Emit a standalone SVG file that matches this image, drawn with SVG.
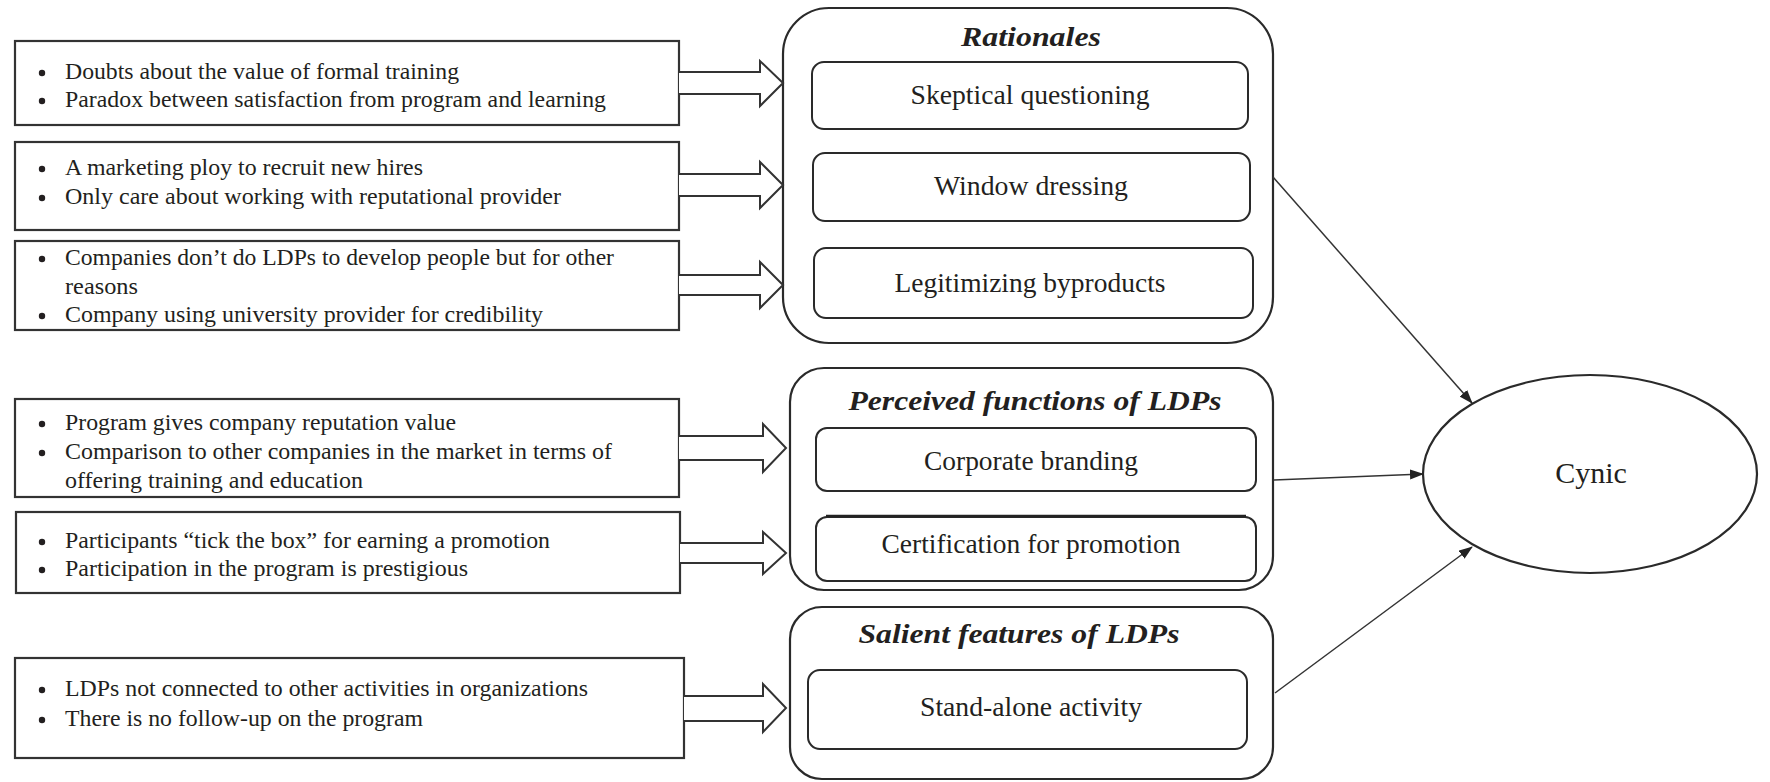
<svg xmlns="http://www.w3.org/2000/svg" width="1770" height="782" viewBox="0 0 1770 782">
<style>
.box{fill:#fff;stroke:#333;stroke-width:2.2}
.blk{fill:#fff;stroke:#333;stroke-width:2;stroke-linejoin:miter}
.cont{fill:#fff;stroke:#2a2a2a;stroke-width:2.2}
.inner{fill:#fff;stroke:#2a2a2a;stroke-width:2}
.lt{font-family:"Liberation Serif",serif;font-size:23px;fill:#231f20}
.it{font-family:"Liberation Serif",serif;font-size:27px;fill:#231f20;text-anchor:middle}
.tt{font-family:"Liberation Serif",serif;font-size:28px;font-weight:bold;font-style:italic;fill:#231f20;text-anchor:middle}
.bul{fill:#231f20}
.con{stroke:#333;stroke-width:1.5;fill:none;marker-end:url(#ah)}
</style>
<defs>
<marker id="ah" markerWidth="14" markerHeight="10" refX="13" refY="5" orient="auto" markerUnits="userSpaceOnUse">
<path d="M0,0 L14,5 L0,10 Z" fill="#222"/>
</marker>
</defs>
<rect width="1770" height="782" fill="#fff"/>

<g id="src1">
<rect class="box" x="15" y="41" width="664" height="84"/>
<circle class="bul" cx="42" cy="73" r="3.2"/><circle class="bul" cx="42" cy="101" r="3.2"/>
<text class="lt" x="65" y="79" textLength="394" lengthAdjust="spacingAndGlyphs">Doubts about the value of formal training</text>
<text class="lt" x="65" y="107" textLength="541" lengthAdjust="spacingAndGlyphs">Paradox between satisfaction from program and learning</text>
</g>
<g id="src2">
<rect class="box" x="15" y="142" width="664" height="88"/>
<circle class="bul" cx="42" cy="169" r="3.2"/><circle class="bul" cx="42" cy="198" r="3.2"/>
<text class="lt" x="65" y="175" textLength="358" lengthAdjust="spacingAndGlyphs">A marketing ploy to recruit new hires</text>
<text class="lt" x="65" y="204" textLength="496" lengthAdjust="spacingAndGlyphs">Only care about working with reputational provider</text>
</g>
<g id="src3">
<rect class="box" x="15" y="241" width="664" height="89"/>
<circle class="bul" cx="42" cy="259" r="3.2"/><circle class="bul" cx="42" cy="316" r="3.2"/>
<text class="lt" x="65" y="265" textLength="549" lengthAdjust="spacingAndGlyphs">Companies don’t do LDPs to develop people but for other</text>
<text class="lt" x="65" y="294" textLength="73" lengthAdjust="spacingAndGlyphs">reasons</text>
<text class="lt" x="65" y="322" textLength="478" lengthAdjust="spacingAndGlyphs">Company using university provider for credibility</text>
</g>
<g id="src4">
<rect class="box" x="15" y="399" width="664" height="98"/>
<circle class="bul" cx="42" cy="424" r="3.2"/><circle class="bul" cx="42" cy="453" r="3.2"/>
<text class="lt" x="65" y="430" textLength="391" lengthAdjust="spacingAndGlyphs">Program gives company reputation value</text>
<text class="lt" x="65" y="459" textLength="547" lengthAdjust="spacingAndGlyphs">Comparison to other companies in the market in terms of</text>
<text class="lt" x="65" y="488" textLength="298" lengthAdjust="spacingAndGlyphs">offering training and education</text>
</g>
<g id="src5">
<rect class="box" x="16" y="512" width="664" height="81"/>
<circle class="bul" cx="42" cy="542" r="3.2"/><circle class="bul" cx="42" cy="570" r="3.2"/>
<text class="lt" x="65" y="548" textLength="485" lengthAdjust="spacingAndGlyphs">Participants “tick the box” for earning a promotion</text>
<text class="lt" x="65" y="576" textLength="403" lengthAdjust="spacingAndGlyphs">Participation in the program is prestigious</text>
</g>
<g id="src6">
<rect class="box" x="15" y="658" width="669" height="100"/>
<circle class="bul" cx="42" cy="690" r="3.2"/><circle class="bul" cx="42" cy="720" r="3.2"/>
<text class="lt" x="65" y="696" textLength="523" lengthAdjust="spacingAndGlyphs">LDPs not connected to other activities in organizations</text>
<text class="lt" x="65" y="726" textLength="358" lengthAdjust="spacingAndGlyphs">There is no follow-up on the program</text>
</g>

<g id="rationales">
<rect class="cont" x="783" y="8" width="490" height="335" rx="46" ry="46"/>
<text class="tt" x="1031" y="46" textLength="140" lengthAdjust="spacingAndGlyphs">Rationales</text>
<rect class="inner" x="812" y="62" width="436" height="67" rx="12" ry="12"/>
<text class="it" x="1030" y="104" textLength="239" lengthAdjust="spacingAndGlyphs">Skeptical questioning</text>
<rect class="inner" x="813" y="153" width="437" height="68" rx="12" ry="12"/>
<text class="it" x="1031" y="195" textLength="194" lengthAdjust="spacingAndGlyphs">Window dressing</text>
<rect class="inner" x="814" y="248" width="439" height="70" rx="12" ry="12"/>
<text class="it" x="1030" y="292" textLength="271" lengthAdjust="spacingAndGlyphs">Legitimizing byproducts</text>
</g>

<g id="perceived">
<rect class="cont" x="790" y="368" width="483" height="222" rx="34" ry="34"/>
<text class="tt" x="1035" y="410" textLength="373" lengthAdjust="spacingAndGlyphs">Perceived functions of LDPs</text>
<rect class="inner" x="816" y="428" width="440" height="63" rx="11" ry="11"/>
<text class="it" x="1031" y="470" textLength="214" lengthAdjust="spacingAndGlyphs">Corporate branding</text>
<rect class="inner" x="816" y="517" width="440" height="64" rx="11" ry="11"/>
<path d="M826,516 H1246" stroke="#222" stroke-width="2.5"/>
<text class="it" x="1031" y="553" textLength="299" lengthAdjust="spacingAndGlyphs">Certification for promotion</text>
</g>

<g id="salient">
<rect class="cont" x="790" y="607" width="483" height="172" rx="32" ry="32"/>
<text class="tt" x="1019" y="643" textLength="321" lengthAdjust="spacingAndGlyphs">Salient features of LDPs</text>
<rect class="inner" x="808" y="670" width="439" height="79" rx="12" ry="12"/>
<text class="it" x="1031" y="716" textLength="222" lengthAdjust="spacingAndGlyphs">Stand-alone activity</text>
</g>

<g id="cynic">
<ellipse class="cont" cx="1590" cy="474" rx="167" ry="99"/>
<text x="1591" y="483" font-family="Liberation Serif, serif" font-size="30" fill="#231f20" text-anchor="middle">Cynic</text>
</g>

<g id="connectors">
<path class="blk" d="M679,72 H760 V61 L783,83 L760,106 V94 H679"/>
<path class="blk" d="M679,174 H760 V162 L783,185 L760,208 V196 H679"/>
<path class="blk" d="M679,275 H760 V262 L783,285 L760,308 V295 H679"/>
<path class="blk" d="M679,436 H763 V424 L786,448 L763,472 V460 H679"/>
<path class="blk" d="M680,543 H763 V532 L786,553 L763,574 V563 H680"/>
<path class="blk" d="M684,696 H763 V684 L786,708 L763,732 V721 H684"/>
<line class="con" x1="1273" y1="177" x2="1472" y2="403"/>
<line class="con" x1="1274" y1="480" x2="1423" y2="474"/>
<line class="con" x1="1275" y1="693" x2="1472" y2="547"/>
</g>
</svg>
